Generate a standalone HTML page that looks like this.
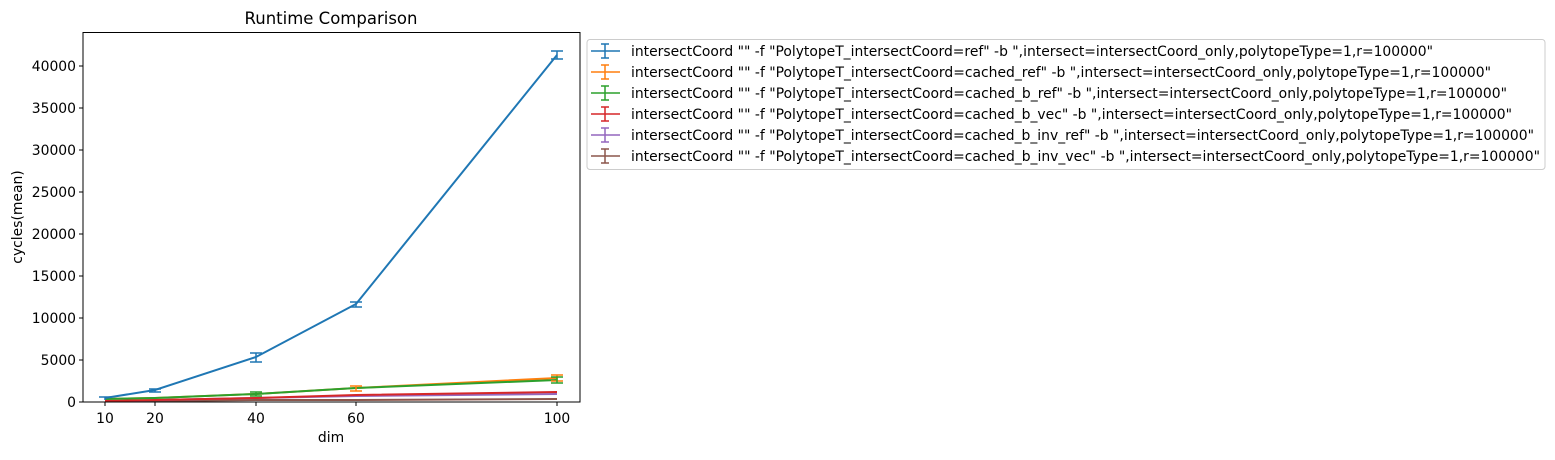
<!DOCTYPE html>
<html><head><style>body{margin:0;background:#fff}</style></head><body>
<svg width="1555" height="455" xmlns="http://www.w3.org/2000/svg" font-family="DejaVu Sans, sans-serif">
<text x="331" y="24" font-size="16.5" text-anchor="middle">Runtime Comparison</text>
<g font-size="13.9" fill="#000">
<g text-anchor="end">
<text x="76" y="407">0</text><text x="76" y="365">5000</text><text x="76" y="323">10000</text><text x="76" y="281">15000</text><text x="76" y="239">20000</text><text x="76" y="197">25000</text><text x="76" y="155">30000</text><text x="76" y="113">35000</text><text x="76" y="71">40000</text>
</g>
<g stroke="#000" stroke-width="1">
<line x1="79" x2="83" y1="402" y2="402"/><line x1="79" x2="83" y1="360" y2="360"/><line x1="79" x2="83" y1="318" y2="318"/><line x1="79" x2="83" y1="276" y2="276"/><line x1="79" x2="83" y1="234" y2="234"/><line x1="79" x2="83" y1="192" y2="192"/><line x1="79" x2="83" y1="150" y2="150"/><line x1="79" x2="83" y1="108" y2="108"/><line x1="79" x2="83" y1="66" y2="66"/>
<line x1="105" x2="105" y1="402" y2="406"/><line x1="155" x2="155" y1="402" y2="406"/><line x1="256" x2="256" y1="402" y2="406"/><line x1="356" x2="356" y1="402" y2="406"/><line x1="557" x2="557" y1="402" y2="406"/>
</g>
<g text-anchor="middle">
<text x="105" y="423">10</text><text x="155" y="423">20</text><text x="256" y="423">40</text><text x="356" y="423">60</text><text x="557" y="423">100</text>
<text x="331" y="442">dim</text>
</g>
<text transform="translate(22,217) rotate(-90)" text-anchor="middle">cycles(mean)</text>
</g>
<g fill="none" stroke-width="2">
<polyline stroke="#8c564b" points="105,401 155,401 256,400 356,400 557,399"/>
<polyline stroke="#9467bd" points="105,401 155,400 256,398 356,396 557,394"/>
<polyline stroke="#d62728" points="105,401 155,400 256,398 356,395 557,392"/>
<polyline stroke="#ff7f0e" points="105,399 155,398 256,394 356,388 557,378"/>
<polyline stroke="#2ca02c" points="105,399 155,398 256,394 356,388 557,380"/>
<polyline stroke="#1f77b4" points="105,398 155,390 256,357 356,304 557,55"/>
<g stroke="#1f77b4" stroke-width="1.5">
<path d="M256,353v9M250,353h12M250,362h12M356,302v5M350,302h12M350,307h12M557,51v8M551,51h12M551,59h12M155,389v3M149,389h12M149,392h12M105,397v3M99,397h12"/>
</g>
<g stroke="#ff7f0e" stroke-width="1.5"><path d="M557,375v6M551,375h12M551,381h12M356,386v5M350,386h12M350,391h12"/></g>
<g stroke="#2ca02c" stroke-width="1.5"><path d="M557,377v6M551,377h12M551,383h12M256,392v4M250,392h12M250,396h12"/></g>
</g>
<rect x="587" y="39.5" width="958" height="130" rx="3" fill="#fff" stroke="#ccc"/>
<g stroke-width="1.5" fill="none">
<g stroke="#1f77b4"><path d="M591,51h29M605,44v14M601,44h8M601,58h8"/></g>
<g stroke="#ff7f0e"><path d="M591,72h29M605,65v14M601,65h8M601,79h8"/></g>
<g stroke="#2ca02c"><path d="M591,93h29M605,86v14M601,86h8M601,100h8"/></g>
<g stroke="#d62728"><path d="M591,114h29M605,107v14M601,107h8M601,121h8"/></g>
<g stroke="#9467bd"><path d="M591,135h29M605,128v14M601,128h8M601,142h8"/></g>
<g stroke="#8c564b"><path d="M591,156h29M605,149v14M601,149h8M601,163h8"/></g>
</g>
<g font-size="13.9" fill="#000">
<text x="631" y="56" textLength="802" lengthAdjust="spacingAndGlyphs">intersectCoord "" -f "PolytopeT_intersectCoord=ref" -b ",intersect=intersectCoord_only,polytopeType=1,r=100000"</text>
<text x="631" y="77" textLength="860" lengthAdjust="spacingAndGlyphs">intersectCoord "" -f "PolytopeT_intersectCoord=cached_ref" -b ",intersect=intersectCoord_only,polytopeType=1,r=100000"</text>
<text x="631" y="98" textLength="876" lengthAdjust="spacingAndGlyphs">intersectCoord "" -f "PolytopeT_intersectCoord=cached_b_ref" -b ",intersect=intersectCoord_only,polytopeType=1,r=100000"</text>
<text x="631" y="119" textLength="881" lengthAdjust="spacingAndGlyphs">intersectCoord "" -f "PolytopeT_intersectCoord=cached_b_vec" -b ",intersect=intersectCoord_only,polytopeType=1,r=100000"</text>
<text x="631" y="140" textLength="903" lengthAdjust="spacingAndGlyphs">intersectCoord "" -f "PolytopeT_intersectCoord=cached_b_inv_ref" -b ",intersect=intersectCoord_only,polytopeType=1,r=100000"</text>
<text x="631" y="161" textLength="909" lengthAdjust="spacingAndGlyphs">intersectCoord "" -f "PolytopeT_intersectCoord=cached_b_inv_vec" -b ",intersect=intersectCoord_only,polytopeType=1,r=100000"</text>
</g>
<rect x="83" y="32.5" width="497" height="369.5" fill="none" stroke="#000" stroke-width="1"/>
</svg>
</body></html>
